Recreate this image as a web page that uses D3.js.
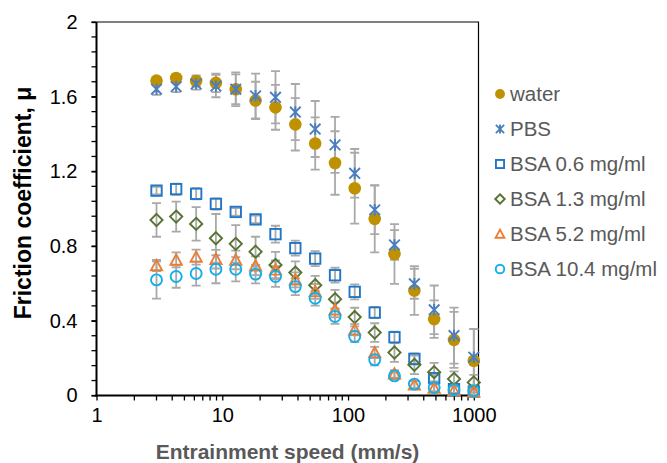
<!DOCTYPE html>
<html><head><meta charset="utf-8">
<script src="https://cdn.jsdelivr.net/npm/d3@7"></script>
<style>body{margin:0;background:#fff;}svg{display:block;font-family:"Liberation Sans",Arial,sans-serif;}</style>
</head><body>
<svg id="chart" width="667" height="463"></svg>
<script>
const speeds = [3, 4.3, 6.2, 8.9, 12.8, 18.4, 26.5, 38.1, 54.8, 78.8, 113, 163, 234, 337, 484, 696, 1000];
const water  = [1.686, 1.700, 1.684, 1.674, 1.640, 1.580, 1.543, 1.452, 1.349, 1.245, 1.110, 0.946, 0.758, 0.562, 0.409, 0.298, 0.186];
const waterErr = [0.02, 0.02, 0.03, 0.05, 0.08, 0.10, 0.12, 0.14, 0.14, 0.17, 0.19, 0.18, 0.16, 0.13, 0.10, 0.15, 0.17];
const pbs    = [1.640, 1.654, 1.668, 1.657, 1.640, 1.604, 1.597, 1.518, 1.427, 1.342, 1.190, 0.994, 0.806, 0.598, 0.459, 0.321, 0.205];
const pbsErr = [0.03, 0.03, 0.03, 0.06, 0.09, 0.12, 0.14, 0.15, 0.15, 0.15, 0.13, 0.13, 0.08, 0.08, 0.13, 0.15, 0.15];
const bsa06  = [1.097, 1.105, 1.080, 1.026, 0.983, 0.943, 0.864, 0.789, 0.733, 0.644, 0.555, 0.444, 0.312, 0.196, 0.093, 0.034, 0.021];
const bsa06Err = [0.02, 0.03, 0.03, 0.03, 0.02, 0.02, 0.045, 0.04, 0.04, 0.04, 0.04, 0.03, 0.03, 0.03, 0.02, 0.02, 0.02];
const bsa13  = [0.940, 0.958, 0.919, 0.842, 0.812, 0.770, 0.699, 0.658, 0.591, 0.516, 0.420, 0.337, 0.230, 0.164, 0.125, 0.089, 0.070];
const bsa13Err = [0.09, 0.08, 0.09, 0.13, 0.10, 0.08, 0.07, 0.06, 0.05, 0.05, 0.05, 0.05, 0.05, 0.05, 0.05, 0.04, 0.04];
const bsa52  = [0.696, 0.726, 0.741, 0.730, 0.726, 0.695, 0.673, 0.619, 0.557, 0.459, 0.352, 0.230, 0.116, 0.057, 0.040, 0.027, 0.020];
const bsa52Err = [0.03, 0.04, 0.04, 0.05, 0.05, 0.05, 0.05, 0.04, 0.04, 0.04, 0.03, 0.03, 0.02, 0.02, 0.02, 0.02, 0.02];
const bsa104 = [0.619, 0.637, 0.653, 0.676, 0.676, 0.650, 0.637, 0.583, 0.521, 0.423, 0.316, 0.191, 0.105, 0.061, 0.043, 0.031, 0.025];
const bsa104Err = [0.10, 0.06, 0.065, 0.075, 0.065, 0.05, 0.055, 0.045, 0.04, 0.04, 0.03, 0.03, 0.02, 0.02, 0.02, 0.02, 0.02];
const seriesNames = ["water", "PBS", "BSA 0.6 mg/ml", "BSA 1.3 mg/ml", "BSA 5.2 mg/ml", "BSA 10.4 mg/ml"];
const xTicks = [1, 10, 100, 1000];
const yTicks = [0, 0.4, 0.8, 1.2, 1.6, 2];

const series = [
  {name: seriesNames[0], vals: water, err: waterErr, shape: "dot", color: "#BF9000"},
  {name: seriesNames[1], vals: pbs, err: pbsErr, shape: "star", color: "#4A7EBF"},
  {name: seriesNames[2], vals: bsa06, err: bsa06Err, shape: "square", color: "#2176C7"},
  {name: seriesNames[3], vals: bsa13, err: bsa13Err, shape: "diamond", color: "#56732F"},
  {name: seriesNames[4], vals: bsa52, err: bsa52Err, shape: "triangle", color: "#ED7D31"},
  {name: seriesNames[5], vals: bsa104, err: bsa104Err, shape: "circle", color: "#14AEEA"}
];

const svg = d3.select("#chart");
const L = 96.5, R = 478.5, T = 22, B = 395.5;
const x = d3.scaleLog().domain([1, 1000]).range([L, 473.8]);
const y = d3.scaleLinear().domain([0, 2]).range([B, T]);

// plot border (top/right)
svg.append("path").attr("d", `M${L},${T}H${R}V${B}`).attr("fill", "none").attr("stroke", "#000").attr("stroke-width", 1.2);

// minor y ticks
const yMinor = d3.range(0, 2.0001, 0.08);
svg.append("g").selectAll("line").data(yMinor).join("line")
  .attr("x1", L - 5).attr("x2", L).attr("y1", d => y(d)).attr("y2", d => y(d))
  .attr("stroke", "#000").attr("stroke-width", 1.3);
// minor x ticks
const xMinor = [];
[1, 10, 100].forEach(dec => { for (let k = 2; k <= 9; k++) xMinor.push(dec * k); });
svg.append("g").selectAll("line").data(xMinor).join("line")
  .attr("x1", d => x(d)).attr("x2", d => x(d)).attr("y1", B).attr("y2", B + 5)
  .attr("stroke", "#000").attr("stroke-width", 1.3);

// axes
const yAxis = d3.axisLeft(y).tickValues(yTicks).tickSize(5).tickPadding(14).tickFormat(d => d3.format("")(+d.toFixed(1)));
const gy = svg.append("g").attr("transform", `translate(${L},0)`).call(yAxis);
const xAxis = d3.axisBottom(x).tickValues(xTicks).tickSize(5).tickPadding(7).tickFormat(d3.format("d"));
const gx = svg.append("g").attr("transform", `translate(0,${B})`).call(xAxis);
[gx, gy].forEach(g => {
  g.select(".domain").remove();
  g.selectAll(".tick line").attr("stroke", "#000").attr("stroke-width", 1.3);
  g.selectAll(".tick text").attr("fill", "#000").style("font-size", "20px").style("font-family", "Liberation Sans, Arial, sans-serif");
});
gx.selectAll(".tick text").attr("dy", "0.72em");
// axis lines
svg.append("line").attr("x1", L).attr("x2", L).attr("y1", T).attr("y2", B + 1).attr("stroke", "#000").attr("stroke-width", 2);
svg.append("line").attr("x1", L - 1).attr("x2", R).attr("y1", B).attr("y2", B).attr("stroke", "#000").attr("stroke-width", 2);

// error bars (all first)
const eb = svg.append("g");
series.forEach(s => {
  const pts = speeds.map((sp, i) => ({sp, v: s.vals[i], e: s.err[i]}));
  const g = eb.append("g").attr("stroke", "#A9A9A9").attr("stroke-width", 1.8).attr("fill", "none");
  g.selectAll("path").data(pts).join("path")
    .attr("d", d => {
      const cx = x(d.sp), y1 = y(d.v + d.e), y2 = y(Math.max(0, d.v - d.e));
      return `M${cx},${y1}V${y2}M${cx - 4.5},${y1}H${cx + 4.5}` + (d.v - d.e > 0 ? `M${cx - 4.5},${y2}H${cx + 4.5}` : "");
    });
});

function drawMarker(g, shape, color, k) {
  const sw = 1.9;
  if (shape === "dot") {
    g.append("circle").attr("r", 6.3 * k).attr("fill", color);
  } else if (shape === "star") {
    const a = 5.3 * k;
    g.append("path").attr("d", `M${-a},${-a}L${a},${a}M${-a},${a}L${a},${-a}M0,${-a * 1.1}V${a * 1.1}`)
      .attr("stroke", color).attr("stroke-width", 1.9).attr("fill", "none");
  } else if (shape === "square") {
    const a = 5.2 * k;
    g.append("rect").attr("x", -a).attr("y", -a).attr("width", 2 * a).attr("height", 2 * a)
      .attr("fill", "none").attr("stroke", color).attr("stroke-width", sw);
  } else if (shape === "diamond") {
    const a = 6.1 * k;
    g.append("path").attr("d", `M0,${-a}L${a},0L0,${a}L${-a},0Z`).attr("fill", "none").attr("stroke", color).attr("stroke-width", sw);
  } else if (shape === "triangle") {
    const a = 5.6 * k;
    g.append("path").attr("d", `M0,${-a}L${a},${a * 0.85}L${-a},${a * 0.85}Z`).attr("fill", "none").attr("stroke", color).attr("stroke-width", sw);
  } else if (shape === "circle") {
    g.append("circle").attr("r", 5.5 * k).attr("fill", "none").attr("stroke", color).attr("stroke-width", sw);
  }
}

series.forEach(s => {
  const g = svg.append("g");
  speeds.forEach((sp, i) => {
    const m = g.append("g").attr("transform", `translate(${x(sp)},${y(s.vals[i])})`);
    drawMarker(m, s.shape, s.color, 1);
  });
});

// legend
const lg = svg.append("g");
series.forEach((s, i) => {
  const yy = 94 + i * 35;
  const m = lg.append("g").attr("transform", `translate(500,${yy})`);
  drawMarker(m, s.shape, s.color, 0.78);
  lg.append("text").attr("x", 510).attr("y", yy).attr("dy", "0.36em")
    .attr("fill", "#595959").style("font-size", "20.5px").text(s.name);
});

// axis titles
svg.append("text").attr("x", (L + R) / 2).attr("y", 459).attr("text-anchor", "middle")
  .attr("fill", "#595959").style("font-size", "21px").style("font-weight", "bold").text("Entrainment speed (mm/s)");
svg.append("text").attr("transform", `translate(31,203) rotate(-90)`).attr("text-anchor", "middle")
  .attr("fill", "#000").style("font-size", "23px").style("font-weight", "bold").text("Friction coefficient, μ");
</script>
</body></html>
